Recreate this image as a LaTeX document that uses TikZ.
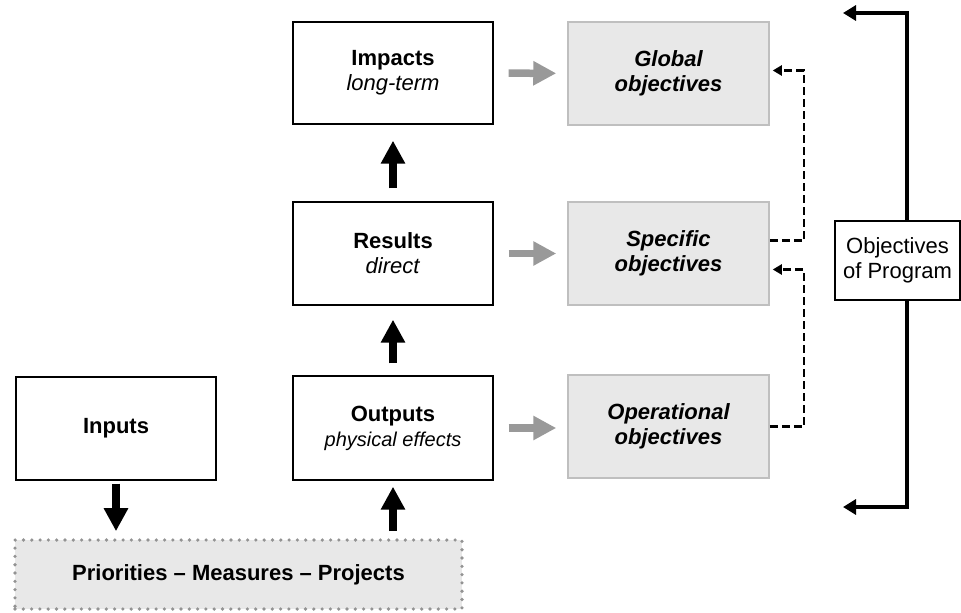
\documentclass[tikz,border=0pt]{standalone}
\usepackage{fontspec}
\setmainfont{Liberation Sans}
\usepackage{tikz}
\usetikzlibrary{positioning}
\usetikzlibrary{arrows.meta, calc}

\newcommand{\boxfont}{\fontsize{22}{25}\selectfont}
\newcommand{\subfont}{\fontsize{20}{24}\selectfont}

\tikzset{
  box/.style={draw, line width=1.3pt, minimum width=200pt, minimum height=103pt, align=center, inner sep=0pt, font=\boxfont},
  objbox/.style={draw=gray!50, fill=gray!18, line width=1.5pt, minimum width=201pt, minimum height=103pt, align=center, inner sep=0pt, font=\boxfont\bfseries\itshape},
  prio/.style={draw=gray!85, fill=gray!18, line width=3.6pt, line cap=round, dash pattern=on 0pt off 8.3pt, minimum width=447pt, minimum height=69pt, inner sep=0pt, font=\boxfont\bfseries},
  progbox/.style={draw, fill=white, line width=1.2pt, minimum width=125pt, minimum height=79pt, align=center, inner sep=0pt, font=\boxfont},
  blockarrow/.style={line width=7.5pt, -{Triangle[length=23pt,width=23pt]}},
  grayarrow/.style={blockarrow, color=gray!80},
  linkarrow/.style={line width=2.3pt, dash pattern=on 8pt off 4pt, -{Triangle[length=9pt,width=10pt]}, shorten >=3pt},
  progarrow/.style={line width=3.3pt, -{Triangle[length=13pt,width=15pt]}}
}

\begin{document}
\begin{tikzpicture}[x=1pt,y=-1pt]
    \useasboundingbox (0,0) rectangle (961,613);

    % chain of effects
    \node[box, minimum height=102pt] (impacts) at (393,73) {\textbf{Impacts}\\\textit{long-term}};
    \node[box] (results) at (393,253.5) {\textbf{Results}\\\textit{direct}};
    \node[box, minimum height=104pt] (outputs) at (393,428) {\textbf{Outputs}\\{\subfont\itshape physical effects}};
    \node[box] (inputs) at (116,428.5) {\textbf{Inputs}};
    \node[prio] (prio) at (238.5,574.5) {Priorities – Measures – Projects};

    % objectives
    \node[objbox] (global) at (668.5,73.5) {Global\\objectives};
    \node[objbox] (specific) at (668.5,253.5) {Specific\\objectives};
    \node[objbox] (operational) at (668.5,426.5) {Operational\\objectives};
    \node[progbox] (program) at (897.5,260.5) {Objectives\\of Program};

    % black arrows
    \draw[blockarrow, shorten <=13pt, shorten >=16pt] (results) -- (impacts);
    \draw[blockarrow, shorten <=12pt, shorten >=14pt] (outputs) -- (results);
    \draw[blockarrow, shorten <=7pt, shorten >=6pt] (prio.north -| outputs) -- (outputs);
    \draw[blockarrow, shorten <=3pt, shorten >=7pt] (inputs) -- (inputs |- prio.north);

    % gray arrows
    \draw[grayarrow, shorten <=15pt, shorten >=11pt] (impacts) -- (global);
    \draw[grayarrow, shorten <=15pt, shorten >=11pt] (results) -- (specific);
    \draw[grayarrow, shorten <=15pt, shorten >=11pt] (outputs.east) -- (outputs.east -| operational.west);

    % dashed links
    \draw[linkarrow] ([yshift=13pt]specific.east) -- ++(34,0) |- ([yshift=3pt]global.east);
    \draw[linkarrow] (operational.east) -- ++(34,0) |- ([yshift=-16pt]specific.east);

    % program bracket
    \coordinate (spine) at (907,0);
    \coordinate (topend) at (843,13);
    \coordinate (botend) at (843,507);
    \draw[progarrow] (program.north -| spine) |- (topend);
    \draw[progarrow] (program.south -| spine) |- (botend);
\end{tikzpicture}
\end{document}
